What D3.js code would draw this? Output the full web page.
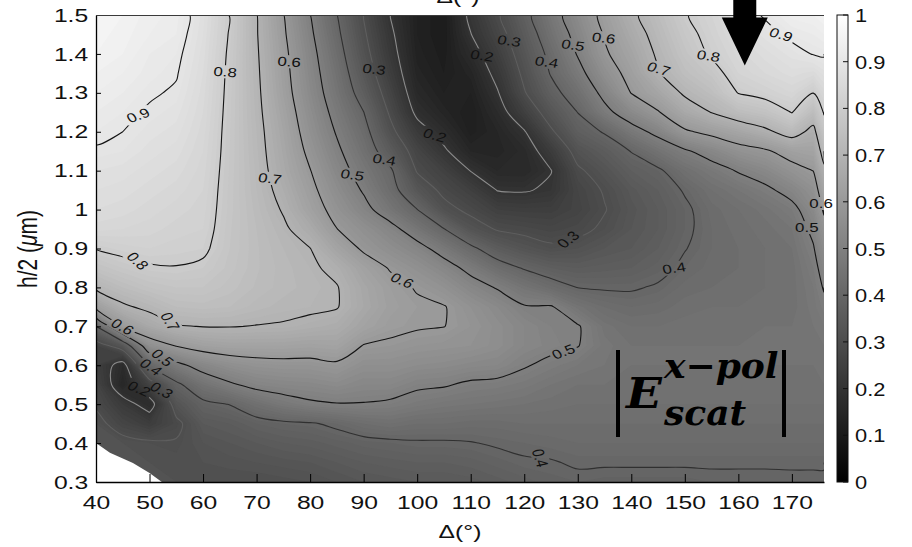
<!DOCTYPE html>
<html>
<head>
<meta charset="utf-8">
<script src="https://cdn.jsdelivr.net/npm/d3@7"></script>
<style>
  body { margin: 0; background: #fff; }
  svg { display: block; font-family: "Liberation Sans", Arial, sans-serif; }
</style>
</head>
<body>
<svg id="chart" width="912" height="547"></svg>
<script>
// ---- data -------------------------------------------------------------
// sampled angles Δ (deg) for each column of the field
const deltas = [40,45,50,55,60,65,70,75,80,85,90,95,100,105,110,115,120,125,130,135,140,145,150,155,160,165,170,174,176];
// sampled half-heights h/2 (µm), top row first
const heights = [1.5,1.45,1.4,1.35,1.3,1.25,1.2,1.15,1.1,1.05,1.0,0.95,0.9,0.85,0.8,0.75,0.7,0.65,0.6,0.55,0.5,0.45,0.4,0.35,0.3];
// |E_scat^(x-pol)| per Δ column, from h/2 = 1.5 down to 0.3 (null = not computed)
const magnitude = [
  [0.96,0.955,0.95,0.94,0.93,0.92,0.91,0.895,0.88,0.87,0.86,0.845,0.802,0.76,0.71,0.62,0.40,0.26,0.25,0.27,0.29,0.32,0.33,null,null],
  [0.95,0.945,0.94,0.93,0.92,0.91,0.90,0.89,0.875,0.865,0.855,0.84,0.815,0.78,0.74,0.69,0.605,0.34,0.17,0.15,0.23,0.27,0.32,0.33,null],
  [0.935,0.93,0.92,0.915,0.905,0.895,0.885,0.875,0.865,0.855,0.845,0.835,0.82,0.795,0.76,0.715,0.66,0.56,0.405,0.26,0.17,0.24,0.31,0.32,null],
  [0.925,0.92,0.91,0.903,0.895,0.885,0.875,0.865,0.855,0.845,0.835,0.825,0.815,0.798,0.77,0.74,0.695,0.603,0.48,0.385,0.33,0.285,0.305,0.315,0.32],
  [0.875,0.87,0.865,0.86,0.855,0.85,0.845,0.84,0.835,0.83,0.825,0.82,0.81,0.79,0.77,0.745,0.702,0.63,0.53,0.45,0.385,0.35,0.33,0.32,0.31],
  [0.797,0.795,0.79,0.787,0.785,0.783,0.781,0.78,0.778,0.776,0.775,0.772,0.77,0.765,0.755,0.74,0.702,0.64,0.56,0.49,0.402,0.36,0.34,0.325,0.31],
  [0.702,0.704,0.707,0.71,0.713,0.716,0.72,0.723,0.727,0.73,0.735,0.74,0.742,0.742,0.738,0.725,0.698,0.64,0.575,0.52,0.44,0.38,0.35,0.33,0.31],
  [0.602,0.61,0.618,0.623,0.629,0.64,0.65,0.657,0.665,0.68,0.695,0.71,0.72,0.725,0.725,0.715,0.695,0.64,0.58,0.53,0.47,0.39,0.36,0.335,0.315],
  [0.501,0.513,0.525,0.533,0.542,0.555,0.568,0.584,0.602,0.618,0.635,0.668,0.701,0.71,0.715,0.71,0.685,0.635,0.58,0.535,0.49,0.395,0.365,0.34,0.32],
  [0.401,0.415,0.43,0.445,0.458,0.476,0.494,0.513,0.532,0.553,0.575,0.601,0.643,0.685,0.703,0.703,0.675,0.64,0.59,0.545,0.497,0.41,0.375,0.35,0.33],
  [0.297,0.31,0.325,0.344,0.368,0.401,0.424,0.444,0.468,0.493,0.522,0.563,0.59,0.635,0.655,0.66,0.64,0.597,0.56,0.53,0.497,0.43,0.385,0.36,0.34],
  [0.198,0.212,0.225,0.242,0.266,0.29,0.318,0.358,0.41,0.427,0.46,0.523,0.557,0.595,0.62,0.625,0.615,0.59,0.56,0.53,0.49,0.44,0.39,0.365,0.345],
  [0.13,0.13,0.135,0.145,0.16,0.185,0.23,0.27,0.295,0.34,0.401,0.46,0.525,0.565,0.595,0.61,0.605,0.58,0.55,0.51,0.475,0.43,0.395,0.37,0.35],
  [0.11,0.11,0.115,0.12,0.13,0.145,0.175,0.21,0.255,0.285,0.32,0.402,0.47,0.53,0.57,0.603,0.601,0.575,0.545,0.505,0.465,0.43,0.395,0.37,0.35],
  [0.215,0.198,0.17,0.145,0.13,0.12,0.125,0.15,0.198,0.25,0.285,0.33,0.415,0.48,0.53,0.57,0.58,0.57,0.535,0.49,0.46,0.425,0.398,0.375,0.355],
  [0.29,0.27,0.245,0.22,0.195,0.17,0.15,0.145,0.16,0.198,0.25,0.295,0.36,0.43,0.495,0.54,0.555,0.555,0.53,0.485,0.455,0.425,0.405,0.385,0.365],
  [0.375,0.355,0.335,0.315,0.295,0.25,0.195,0.165,0.16,0.195,0.245,0.285,0.33,0.395,0.455,0.505,0.53,0.53,0.505,0.475,0.45,0.43,0.41,0.395,0.375],
  [0.465,0.445,0.42,0.405,0.375,0.335,0.29,0.235,0.198,0.21,0.245,0.275,0.31,0.37,0.425,0.505,0.51,0.515,0.485,0.46,0.445,0.43,0.415,0.397,0.385],
  [0.545,0.525,0.505,0.475,0.44,0.401,0.37,0.325,0.29,0.27,0.265,0.285,0.32,0.36,0.399,0.455,0.505,0.502,0.47,0.45,0.44,0.43,0.42,0.405,0.39],
  [0.62,0.605,0.59,0.56,0.52,0.48,0.405,0.36,0.33,0.305,0.297,0.31,0.34,0.365,0.395,0.43,0.455,0.465,0.46,0.45,0.44,0.43,0.42,0.405,0.385],
  [0.685,0.665,0.645,0.625,0.602,0.54,0.47,0.402,0.37,0.345,0.335,0.34,0.35,0.37,0.395,0.42,0.44,0.45,0.45,0.445,0.44,0.43,0.42,0.405,0.385],
  [0.74,0.725,0.71,0.695,0.65,0.595,0.52,0.45,0.39,0.37,0.36,0.36,0.37,0.385,0.405,0.425,0.44,0.45,0.45,0.445,0.44,0.43,0.42,0.405,0.385],
  [0.795,0.78,0.765,0.745,0.71,0.66,0.59,0.49,0.44,0.405,0.39,0.39,0.398,0.41,0.425,0.435,0.445,0.45,0.45,0.445,0.44,0.43,0.42,0.405,0.385],
  [0.83,0.82,0.808,0.775,0.745,0.702,0.62,0.53,0.47,0.44,0.425,0.42,0.42,0.425,0.43,0.44,0.445,0.45,0.45,0.445,0.44,0.43,0.42,0.405,0.39],
  [0.875,0.86,0.845,0.83,0.802,0.74,0.65,0.57,0.505,0.46,0.44,0.435,0.43,0.43,0.435,0.44,0.445,0.45,0.45,0.445,0.44,0.43,0.42,0.405,0.39],
  [0.905,0.885,0.865,0.85,0.82,0.76,0.685,0.59,0.535,0.485,0.455,0.445,0.44,0.44,0.44,0.445,0.45,0.45,0.45,0.445,0.44,0.43,0.42,0.405,0.39],
  [0.935,0.91,0.885,0.865,0.84,0.802,0.73,0.63,0.575,0.525,0.48,0.46,0.45,0.445,0.445,0.445,0.45,0.45,0.45,0.445,0.44,0.43,0.42,0.405,0.392],
  [0.94,0.92,0.902,0.855,0.801,0.74,0.68,0.64,0.601,0.565,0.54,0.515,0.495,0.48,0.47,0.465,0.46,0.455,0.45,0.445,0.44,0.43,0.42,0.405,0.392],
  [0.95,0.93,0.905,0.875,0.845,0.805,0.77,0.73,0.685,0.645,0.61,0.575,0.55,0.525,0.505,0.485,0.47,0.46,0.455,0.45,0.44,0.43,0.42,0.405,0.392]
];
// edge of the region that was not computed (lower-left corner), [Δ, h/2]
const noDataEdge = [[40,0.40],[42.6,0.375],[46.9,0.349],[50,0.323],[52.3,0.30]];
// iso-levels drawn as lines
const contourLevels = [0.2,0.3,0.4,0.5,0.6,0.7,0.8,0.9];
// tick values
const xTicks = [40,50,60,70,80,90,100,110,120,130,140,150,160,170];
const yTicks = [0.3,0.4,0.5,0.6,0.7,0.8,0.9,1.0,1.1,1.2,1.3,1.4,1.5];
const yTickLabels = ["0.3","0.4","0.5","0.6","0.7","0.8","0.9","1","1.1","1.2","1.3","1.4","1.5"];
const colorTicks = [0,0.1,0.2,0.3,0.4,0.5,0.6,0.7,0.8,0.9,1];
const colorTickLabels = ["0","0.1","0.2","0.3","0.4","0.5","0.6","0.7","0.8","0.9","1"];

// ---- layout -----------------------------------------------------------
const plot = { left: 96, right: 824, top: 15, bottom: 482 };
// inline contour labels: [level, Δ, h/2, rotation]
const labelSpots = [
  [0.9, 48.2, 1.238, -25], [0.8, 64.1, 1.354, 5], [0.6, 76.2, 1.38, 5], [0.3, 91.7, 1.36, 8],
  [0.2, 103, 1.187, 20], [0.7, 72.5, 1.08, 8], [0.5, 87.1, 1.084, 10], [0.4, 93.1, 1.12, 10],
  [0.8, 47.7, 0.863, 50], [0.7, 53.8, 0.711, 65], [0.6, 45, 0.70, 35], [0.5, 52.5, 0.621, 45],
  [0.4, 50.5, 0.60, 40], [0.3, 52.9, 0.542, 35], [0.2, 48.1, 0.54, 30],
  [0.6, 97.3, 0.82, 30], [0.3, 128.2, 0.922, -45], [0.4, 148.7, 0.84, -10], [0.5, 127.2, 0.64, -25],
  [0.4, 122.9, 0.349, 75], [0.2, 111.2, 1.39, 10], [0.3, 116.4, 1.43, 10], [0.4, 123.5, 1.377, 10],
  [0.5, 128.5, 1.42, 10], [0.6, 134.5, 1.44, 8], [0.7, 144.8, 1.36, 20], [0.8, 154.1, 1.39, 10],
  [0.9, 167.4, 1.44, 20], [0.6, 174.3, 1.012, 0], [0.5, 173, 0.955, 0]
];
const arrowTip = [161.2, 1.37];

const x = d3.scaleLinear().domain([40, 176]).range([plot.left, plot.right]);
const y = d3.scaleLinear().domain([0.3, 1.5]).range([plot.bottom, plot.top]);
const gray = v => d3.interpolateRgb("#000", "#fff")(Math.max(0, Math.min(1, v)));

const svg = d3.select("#chart");
const defs = svg.append("defs");
defs.append("clipPath").attr("id", "plotClip").append("rect")
  .attr("x", plot.left).attr("y", plot.top)
  .attr("width", plot.right - plot.left).attr("height", plot.bottom - plot.top);

// ---- grid (row-major, top row first); gaps take the value just above ----
const nx = deltas.length, ny = heights.length;
const grid = new Array(nx * ny);
for (let i = 0; i < nx; i++) {
  let last = null;
  for (let j = 0; j < ny; j++) {
    let v = magnitude[i][j];
    if (v == null) v = last; else last = v;
    grid[j * nx + i] = v;
  }
}

// grid coordinates from d3.contours -> pixels (non-uniform sample spacing)
function lerpArr(arr, f) {
  const k = Math.max(0, Math.min(arr.length - 1, f));
  const i0 = Math.min(arr.length - 2, Math.floor(k));
  const t = k - i0;
  return arr[i0] + (arr[i0 + 1] - arr[i0]) * t;
}
const toPx = p => [x(lerpArr(deltas, p[0] - 0.5)), y(lerpArr(heights, p[1] - 0.5))];
const ringsPath = coords => coords.map(poly => poly.map(ring =>
  "M" + ring.map(p => toPx(p).map(v => v.toFixed(2)).join(",")).join("L") + "Z").join("")).join("");

// ---- shaded field -----------------------------------------------------
const shadeSteps = d3.range(0, 100).map(k => k / 100);
const shade = d3.contours().size([nx, ny]).thresholds(shadeSteps)(grid);
const fieldG = svg.append("g").attr("clip-path", "url(#plotClip)");
fieldG.selectAll("path").data(shade).join("path")
  .attr("d", g => ringsPath(g.coordinates))
  .attr("fill", g => gray(g.value + 0.005))
  .attr("fill-rule", "evenodd");

// ---- iso-lines ---------------------------------------------------------
const isBoundarySeg = (a, b) =>
  (a[0] === 0 && b[0] === 0) || (a[0] === nx && b[0] === nx) ||
  (a[1] === 0 && b[1] === 0) || (a[1] === ny && b[1] === ny);
function splitRing(ring) {
  const out = []; let cur = null;
  for (let k = 0; k < ring.length - 1; k++) {
    const a = ring[k], b = ring[k + 1];
    if (isBoundarySeg(a, b)) { if (cur) { out.push(cur); cur = null; } continue; }
    if (!cur) cur = [a];
    cur.push(b);
  }
  if (cur) out.push(cur);
  return out.map(line => line.map(toPx));
}
const iso = d3.contours().size([nx, ny]).thresholds(contourLevels)(grid).map(g => ({
  level: g.value,
  lines: g.coordinates.flatMap(poly => poly.flatMap(splitRing))
}));
const lineColor = lv => lv < 0.25 ? "#8c8c8c" : lv < 0.35 ? "#5e5e5e" : lv < 0.45 ? "#303030" : "#141414";

// label placement: snap each label to the nearest point of its iso-line
function nearestOnLines(lines, px, py) {
  let best = null, bd = Infinity;
  lines.forEach(line => {
    for (let k = 0; k < line.length - 1; k++) {
      const [ax, ay] = line[k], [bx, by] = line[k + 1];
      const dx = bx - ax, dy = by - ay, L = dx * dx + dy * dy || 1;
      const t = Math.max(0, Math.min(1, ((px - ax) * dx + (py - ay) * dy) / L));
      const qx = ax + t * dx, qy = ay + t * dy, d = (qx - px) ** 2 + (qy - py) ** 2;
      if (d < bd) { bd = d; best = [qx, qy]; }
    }
  });
  return bd < 30 * 30 ? best : [px, py];
}
const labels = labelSpots.map(([lv, d, h, ang]) => {
  const set = iso.find(s => Math.abs(s.level - lv) < 1e-6);
  const [lx, ly] = nearestOnLines(set ? set.lines : [], x(d), y(h));
  return { text: lv.toFixed(1), x: lx, y: ly, ang };
});
const labelTransform = l => `translate(${l.x.toFixed(1)},${l.y.toFixed(1)}) scale(1.3,1) rotate(${l.ang})`;

const mask = defs.append("mask").attr("id", "labelGaps").attr("maskUnits", "userSpaceOnUse")
  .attr("x", 0).attr("y", 0).attr("width", 912).attr("height", 547);
mask.append("rect").attr("width", 912).attr("height", 547).attr("fill", "#fff");
mask.selectAll("rect.gap").data(labels).join("rect").attr("class", "gap")
  .attr("x", -11).attr("y", -6.5).attr("width", 22).attr("height", 13)
  .attr("fill", "#000").attr("transform", labelTransform);

const lineGen = d3.line().curve(d3.curveCatmullRom.alpha(0.5));
const isoG = svg.append("g").attr("clip-path", "url(#plotClip)")
  .append("g").attr("mask", "url(#labelGaps)");
iso.forEach(s => {
  isoG.append("path")
    .attr("d", s.lines.map(l => lineGen(l)).join(""))
    .attr("fill", "none").attr("stroke", lineColor(s.level))
    .attr("stroke-width", 1.1).attr("stroke-linejoin", "round");
});
svg.append("g").selectAll("text").data(labels).join("text")
  .attr("transform", labelTransform)
  .attr("text-anchor", "middle").attr("dy", "0.36em")
  .attr("font-size", 13).attr("fill", "#111").text(l => l.text);

// ---- region without data --------------------------------------------
svg.append("path")
  .attr("d", d3.line()([...noDataEdge, [40, 0.3]].map(([d, h]) => [x(d), y(h)])) + "Z")
  .attr("fill", "#fff");

// ---- axes -------------------------------------------------------------
const xAxisG = svg.append("g").attr("transform", `translate(0,${plot.bottom})`)
  .call(d3.axisBottom(x).tickValues(xTicks).tickSizeInner(-8).tickSizeOuter(0)
    .tickPadding(14).tickFormat(d3.format("d")));
const yAxisG = svg.append("g").attr("transform", `translate(${plot.left},0)`)
  .call(d3.axisLeft(y).tickValues(yTicks).tickSizeInner(-5).tickSizeOuter(0)
    .tickPadding(6).tickFormat((d, i) => yTickLabels[i]));
[xAxisG, yAxisG].forEach(g => {
  g.attr("font-family", null).attr("font-size", null);
  g.select(".domain").attr("stroke", "#000").attr("stroke-width", 1.3);
  g.selectAll(".tick line").attr("stroke", "#000");
  g.selectAll(".tick text").attr("font-size", 19).attr("fill", "#111")
    .attr("transform", "scale(1.3,1)");
});
xAxisG.selectAll(".tick text").attr("x", 0);
svg.append("line").attr("x1", plot.left).attr("x2", plot.right)
  .attr("y1", plot.top + 0.5).attr("y2", plot.top + 0.5)
  .attr("stroke", "#3a3a3a").attr("stroke-width", 1);

// axis titles
svg.append("text").attr("transform", "translate(460,538) scale(1.3,1)")
  .attr("text-anchor", "middle").attr("font-size", 19).attr("fill", "#111").text("Δ(°)");
svg.append("text").attr("transform", "translate(458,3) scale(1.3,1)")
  .attr("text-anchor", "middle").attr("font-size", 19).attr("fill", "#111").text("Δ(°)");
const yt = svg.append("text").attr("transform", "translate(37,249) scale(1.3,1) rotate(-90)")
  .attr("text-anchor", "middle").attr("font-size", 21).attr("fill", "#111");
yt.append("tspan").text("h/2 (");
yt.append("tspan").attr("font-style", "italic").text("μ");
yt.append("tspan").text("m)");

// ---- colour bar -------------------------------------------------------
const cb = { x: 837, w: 11 };
const cy = d3.scaleLinear().domain([0, 1]).range([plot.bottom, plot.top]);
const grad = defs.append("linearGradient").attr("id", "cbGrad")
  .attr("x1", 0).attr("y1", 1).attr("x2", 0).attr("y2", 0);
d3.range(0, 1.0001, 0.1).forEach(v => grad.append("stop")
  .attr("offset", v).attr("stop-color", gray(v)));
svg.append("rect").attr("x", cb.x).attr("y", plot.top).attr("width", cb.w)
  .attr("height", plot.bottom - plot.top).attr("fill", "url(#cbGrad)")
  .attr("stroke", "#111").attr("stroke-width", 1);
const cbTicks = svg.append("g");
cbTicks.selectAll("line").data(colorTicks).join("line")
  .attr("x1", cb.x + cb.w - 5).attr("x2", cb.x + cb.w)
  .attr("y1", d => cy(d)).attr("y2", d => cy(d)).attr("stroke", "#111");
cbTicks.selectAll("text").data(colorTicks).join("text")
  .attr("transform", d => `translate(855,${cy(d) + 7}) scale(1.15,1)`)
  .attr("font-size", 19).attr("fill", "#111").text((d, i) => colorTickLabels[i]);

// ---- annotation -------------------------------------------------------
const [ax, ay] = [x(arrowTip[0]), y(arrowTip[1])];
svg.append("path")
  .attr("d", `M${ax - 11.5},-2V${ay - 48}H${ax - 23}L${ax},${ay}L${ax + 23},${ay - 48}H${ax + 11.5}V-2Z`)
  .attr("fill", "#000");

const ann = svg.append("g").attr("font-family", "'DejaVu Serif', serif")
  .attr("font-weight", "bold").attr("font-style", "italic").attr("fill", "#000");
ann.append("line").attr("x1", 618).attr("x2", 618).attr("y1", 350).attr("y2", 437)
  .attr("stroke", "#000").attr("stroke-width", 4);
ann.append("line").attr("x1", 784).attr("x2", 784).attr("y1", 350).attr("y2", 437)
  .attr("stroke", "#000").attr("stroke-width", 4);
ann.append("text").attr("transform", "translate(626,408) scale(1.12,1)")
  .attr("font-size", 42).text("E");
ann.append("text").attr("transform", "translate(664,378)")
  .attr("font-size", 36).text("x−pol");
ann.append("text").attr("transform", "translate(664,425)")
  .attr("font-size", 36).text("scat");
</script>
</body>
</html>
